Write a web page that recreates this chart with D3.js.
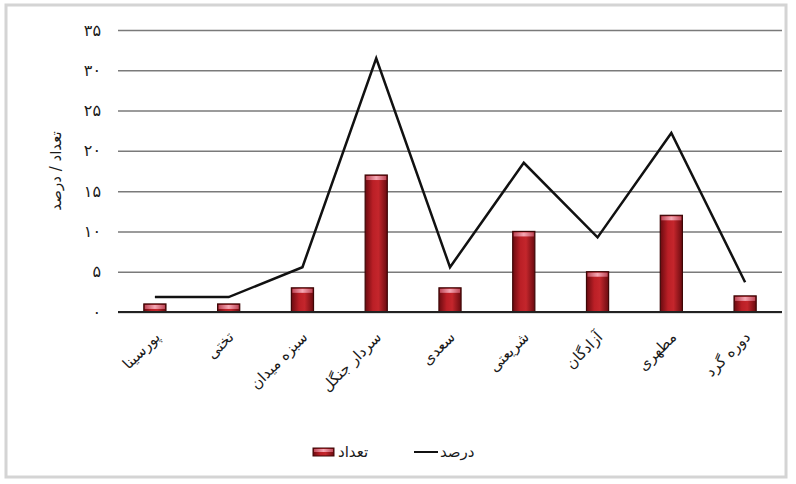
<!DOCTYPE html>
<html>
<head>
<meta charset="utf-8">
<script src="https://cdn.jsdelivr.net/npm/d3@7"></script>
<style>
  html, body { margin: 0; padding: 0; background: #fff; }
  svg { display: block; font-family: "DejaVu Sans", sans-serif; }
</style>
</head>
<body>
<svg id="chart" width="796" height="484"></svg>
<script>
const categories = ["پورسینا", "تختی", "سبزه میدان", "سردار جنگل", "سعدی", "شریعتی", "آزادگان", "مطهری", "دوره گرد"];
const counts = [1, 1, 3, 17, 3, 10, 5, 12, 2];
const percents = [1.85, 1.85, 5.56, 31.48, 5.56, 18.52, 9.26, 22.22, 3.70];
const yTicks = [0, 5, 10, 15, 20, 25, 30, 35];
const yTickLabels = ["۰", "۵", "۱۰", "۱۵", "۲۰", "۲۵", "۳۰", "۳۵"];
const seriesNames = ["تعداد", "درصد"];
const yTitle = "تعداد / درصد";

const svg = d3.select("#chart");
const W = 796, H = 484;
const margin = { left: 118, right: 14, top: 30, bottom: 172 };
const plotR = W - margin.right, plotB = H - margin.bottom;

// frame
svg.append("rect").attr("x", 6).attr("y", 5).attr("width", 780).attr("height", 472)
  .attr("fill", "#fff").attr("stroke", "#d4d4d4").attr("stroke-width", 3);

const defs = svg.append("defs");
const grad = defs.append("linearGradient").attr("id", "barGrad").attr("x1", "0").attr("x2", "1").attr("y1", "0").attr("y2", "0");
grad.append("stop").attr("offset", "0%").attr("stop-color", "#6a0b10");
grad.append("stop").attr("offset", "35%").attr("stop-color", "#bb1f26");
grad.append("stop").attr("offset", "60%").attr("stop-color", "#c4262c");
grad.append("stop").attr("offset", "100%").attr("stop-color", "#6a0b10");
const topGrad = defs.append("linearGradient").attr("id", "topGrad").attr("x1", "0").attr("x2", "1").attr("y1", "0").attr("y2", "0");
topGrad.append("stop").attr("offset", "0%").attr("stop-color", "#c04858");
topGrad.append("stop").attr("offset", "50%").attr("stop-color", "#f6a8b4");
topGrad.append("stop").attr("offset", "100%").attr("stop-color", "#c04858");

const x = d3.scaleBand().domain(categories).range([margin.left, plotR]).paddingInner(0.7).paddingOuter(0.35);
const xc = d => x(d) + x.bandwidth() / 2;
const y = d3.scaleLinear().domain([0, 35]).range([plotB, margin.top]);

// gridlines
const grid = svg.append("g").attr("class", "grid")
  .attr("transform", `translate(${margin.left},0)`)
  .call(d3.axisLeft(y).tickValues(yTicks).tickSize(-(plotR - margin.left)).tickFormat(""));
grid.select(".domain").remove();
grid.selectAll("line").attr("stroke", "#7a7a7a").attr("stroke-width", 1.5);

// y tick labels
const yAxis = svg.append("g").attr("transform", `translate(101,0)`)
  .call(d3.axisLeft(y).tickValues(yTicks).tickSize(0).tickPadding(0).tickFormat((d, i) => yTickLabels[i]));
yAxis.select(".domain").remove();
yAxis.selectAll("text").attr("font-size", 16).attr("fill", "#1a1a1a").attr("font-family", "DejaVu Sans, sans-serif");

// y title
svg.append("text").attr("transform", `translate(56,${(margin.top + plotB) / 2}) rotate(-90)`)
  .attr("text-anchor", "middle").attr("dy", "0.35em").attr("font-size", 15).attr("fill", "#1a1a1a")
  .text(yTitle);

// bars
const bars = svg.append("g");
categories.forEach((c, i) => {
  const bx = x(c), bw = x.bandwidth(), by = y(counts[i]), bh = plotB - y(counts[i]);
  bars.append("rect").attr("x", bx).attr("y", by).attr("width", bw).attr("height", bh)
    .attr("fill", "url(#barGrad)").attr("stroke", "#3e0606").attr("stroke-width", 1.2);
  bars.append("rect").attr("x", bx + 1).attr("y", by + 1).attr("width", bw - 2).attr("height", Math.min(4, Math.max(bh - 2, 1)))
    .attr("fill", "url(#topGrad)");
});

// x axis line
svg.append("g").attr("transform", `translate(0,${plotB})`)
  .call(d3.axisBottom(x).tickSize(0).tickFormat(""))
  .call(g => g.select(".domain").attr("stroke", "#222").attr("stroke-width", 2).attr("d", `M${margin.left},0H${plotR}`));

// line
const line = d3.line().x((d, i) => xc(categories[i])).y(d => y(d));
svg.append("path").datum(percents).attr("d", line).attr("fill", "none")
  .attr("stroke", "#111").attr("stroke-width", 2.5).attr("stroke-linejoin", "miter");

// x labels
svg.append("g").selectAll("text").data(categories).join("text")
  .attr("transform", d => `translate(${xc(d) + 6},${plotB + 26}) rotate(-45)`)
  .attr("text-anchor", "end").attr("font-size", 15).attr("fill", "#1a1a1a")
  .text(d => d);

// legend
const lg = svg.append("g");
lg.append("rect").attr("x", 313).attr("y", 448).attr("width", 21).attr("height", 8)
  .attr("fill", "url(#barGrad)").attr("stroke", "#3e0606").attr("stroke-width", 1);
lg.append("rect").attr("x", 314).attr("y", 449).attr("width", 19).attr("height", 3).attr("fill", "url(#topGrad)");
lg.append("text").attr("x", 338).attr("y", 452).attr("dy", "0.35em").attr("font-size", 15).attr("fill", "#1a1a1a").text(seriesNames[0]);
lg.append("line").attr("x1", 414).attr("x2", 438).attr("y1", 452).attr("y2", 452).attr("stroke", "#111").attr("stroke-width", 2);
lg.append("text").attr("x", 440).attr("y", 452).attr("dy", "0.35em").attr("font-size", 15).attr("fill", "#1a1a1a").text(seriesNames[1]);
</script>
</body>
</html>
